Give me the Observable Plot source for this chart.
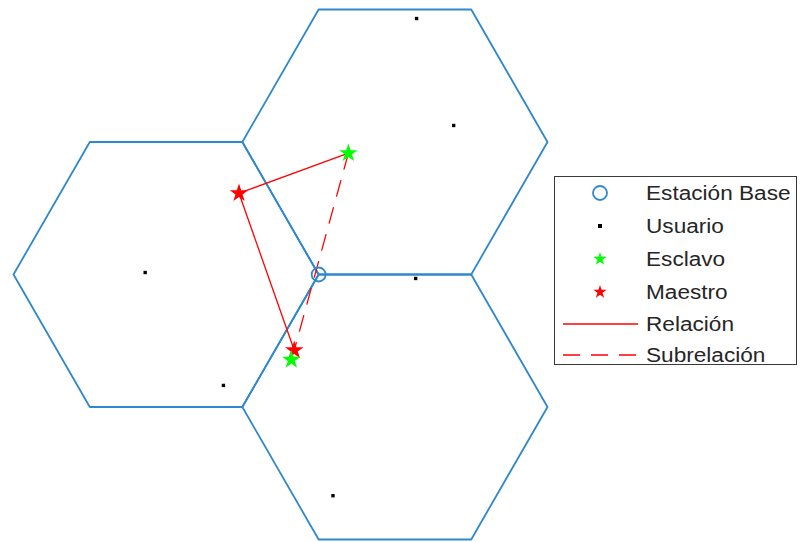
<!DOCTYPE html>
<html>
<head>
<meta charset="utf-8">
<script src="https://cdn.jsdelivr.net/npm/d3@7"></script>
<script src="https://cdn.jsdelivr.net/npm/@observablehq/plot@0.6"></script>
<style>
  html, body { margin: 0; padding: 0; background: #fff; }
  #wrap { position: relative; width: 801px; height: 542px; overflow: hidden; }
  #chart { position: absolute; left: 0; top: 0; }
  #legend { position: absolute; left: 554px; top: 176px; }
</style>
</head>
<body>
<div id="wrap"><div id="chart"></div><svg id="legend" width="244" height="190"></svg></div>
<script>
// Cell geometry (hexagon radius = 1), base station at origin
const hexRadius = 1;
const hexCenterX = [-1, 0.5, 0.5];
const hexCenterY = [0, Math.sqrt(3) / 2, -Math.sqrt(3) / 2];

const baseX = [0];
const baseY = [0];

// Users
const userX = [0.642, 0.885, -1.137, 0.636, -0.624, 0.094];
const userY = [1.673, 0.974, 0.013, -0.026, -0.725, -1.446];

// Slaves (green) and masters (red)
const slaveX = [0.195, -0.179];
const slaveY = [0.793, -0.558];
const masterX = [-0.522, -0.160];
const masterY = [0.531, -0.495];

// Relations (solid): master 0 -> slave 0, master 0 -> master 1
const relFromX = [masterX[0], masterX[0]];
const relFromY = [masterY[0], masterY[0]];
const relToX = [slaveX[0], masterX[1]];
const relToY = [slaveY[0], masterY[1]];
// Sub-relation (dashed): slave 0 -> master 1
const subFromX = [slaveX[0]];
const subFromY = [slaveY[0]];
const subToX = [masterX[1]];
const subToY = [masterY[1]];

const legendLabels = ["Estación Base", "Usuario", "Esclavo", "Maestro", "Relación", "Subrelación"];

const BLUE = "#3088cc";
const hexes = [];
hexCenterX.forEach((cx, h) => {
  for (let k = 0; k <= 6; k++) {
    const a = (Math.PI / 3) * k;
    hexes.push({cell: h, x: cx + hexRadius * Math.cos(a), y: hexCenterY[h] + hexRadius * Math.sin(a)});
  }
});
const users = userX.map((x, i) => ({x, y: userY[i]}));
const slaves = slaveX.map((x, i) => ({x, y: slaveY[i]}));
const masters = masterX.map((x, i) => ({x, y: masterY[i]}));
const rels = relFromX.map((x1, i) => ({x1, y1: relFromY[i], x2: relToX[i], y2: relToY[i]}));
const subs = subFromX.map((x1, i) => ({x1, y1: subFromY[i], x2: subToX[i], y2: subToY[i]}));
const bases = baseX.map((x, i) => ({x, y: baseY[i]}));

const plot = Plot.plot({
  width: 801,
  height: 542,
  marginLeft: 13,
  marginRight: 254,
  marginTop: 9,
  marginBottom: 3,
  x: {domain: [-2, 1.5], axis: null},
  y: {domain: [-Math.sqrt(3), Math.sqrt(3)], axis: null},
  marks: [
    Plot.line(hexes, {x: "x", y: "y", z: "cell", stroke: BLUE, strokeWidth: 1.8}),
    Plot.link(rels, {x1: "x1", y1: "y1", x2: "x2", y2: "y2", stroke: "#ff0000", strokeWidth: 1.3}),
    Plot.link(subs, {x1: "x1", y1: "y1", x2: "x2", y2: "y2", stroke: "#ff0000", strokeWidth: 1.3, strokeDasharray: "17,11"}),
    Plot.dot(users, {x: "x", y: "y", symbol: "square", r: 1.9, fill: "black"}),
    Plot.dot(masters, {x: "x", y: "y", symbol: "star", r: 5.8, fill: "#ff0000"}),
    Plot.dot(slaves, {x: "x", y: "y", symbol: "star", r: 5.8, fill: "#00ff00"}),
    Plot.dot(bases, {x: "x", y: "y", r: 7, stroke: BLUE, strokeWidth: 1.8, fill: "none"})
  ]
});
document.getElementById("chart").appendChild(plot);

// Legend
const lg = d3.select("#legend");
lg.append("rect").attr("x", 0.5).attr("y", 0.5).attr("width", 242).attr("height", 188)
  .attr("fill", "white").attr("stroke", "#3a3a3a").attr("stroke-width", 1);
const rowY = [17, 50, 83, 116, 148, 179];
const symX = 46;
legendLabels.forEach((lab, i) => {
  lg.append("text").attr("transform", `translate(92,${rowY[i]}) scale(1.16,1)`)
    .attr("dy", "0.36em").attr("font-family", "Liberation Sans, Arial, sans-serif")
    .attr("font-size", 19.5).attr("fill", "#262626").text(lab);
});
lg.append("circle").attr("cx", symX).attr("cy", rowY[0]).attr("r", 7).attr("fill", "none").attr("stroke", BLUE).attr("stroke-width", 1.8);
lg.append("rect").attr("x", symX - 2).attr("y", rowY[1] - 2).attr("width", 4).attr("height", 4).attr("fill", "black");
const star = d3.symbol(d3.symbolStar, 55)();
lg.append("path").attr("d", star).attr("transform", `translate(${symX},${rowY[2]})`).attr("fill", "#00ff00");
lg.append("path").attr("d", star).attr("transform", `translate(${symX},${rowY[3]})`).attr("fill", "#ff0000");
lg.append("line").attr("x1", 9).attr("x2", 84).attr("y1", rowY[4]).attr("y2", rowY[4]).attr("stroke", "#ff0000").attr("stroke-width", 1.3);
lg.append("line").attr("x1", 9).attr("x2", 84).attr("y1", rowY[5]).attr("y2", rowY[5]).attr("stroke", "#ff0000").attr("stroke-width", 1.3).attr("stroke-dasharray", "17,11");
</script>
</body>
</html>
